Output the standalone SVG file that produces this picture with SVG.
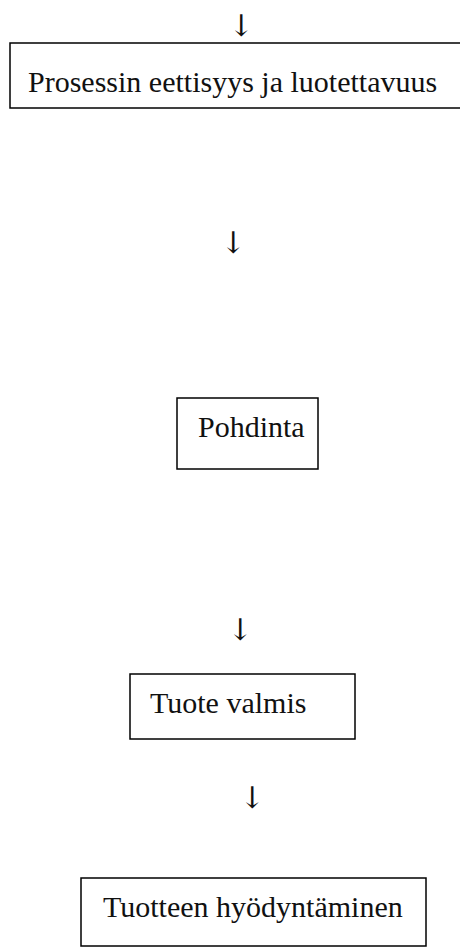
<svg xmlns="http://www.w3.org/2000/svg" width="460" height="947" viewBox="0 0 460 947">
<style>
.box{fill:#fff;stroke:#000;stroke-width:1.5}
.lbl{font-family:"Liberation Serif","Times New Roman",serif;font-size:30px;fill:#111}
.arr{font-family:"DejaVu Serif","Liberation Serif",serif;font-size:30px;fill:#111;text-anchor:middle}
</style>
<rect width="460" height="947" fill="#fff"/>
<g id="connectors">
<text class="arr" x="241" y="36">↓</text>
<text class="arr" x="233" y="253">↓</text>
<text class="arr" x="240" y="640">↓</text>
<text class="arr" x="252" y="808">↓</text>
</g>
<g id="n1">
<rect class="box" x="10" y="43" width="460" height="65"/>
<text class="lbl" x="28" y="92">Prosessin eettisyys ja luotettavuus</text>
</g>
<g id="n2">
<rect class="box" x="177" y="398" width="141" height="71"/>
<text class="lbl" x="198" y="437">Pohdinta</text>
</g>
<g id="n3">
<rect class="box" x="130" y="674" width="225" height="65"/>
<text class="lbl" x="150" y="713">Tuote valmis</text>
</g>
<g id="n4">
<rect class="box" x="81" y="878" width="345" height="68"/>
<text class="lbl" x="103" y="917">Tuotteen hyödyntäminen</text>
</g>
</svg>
